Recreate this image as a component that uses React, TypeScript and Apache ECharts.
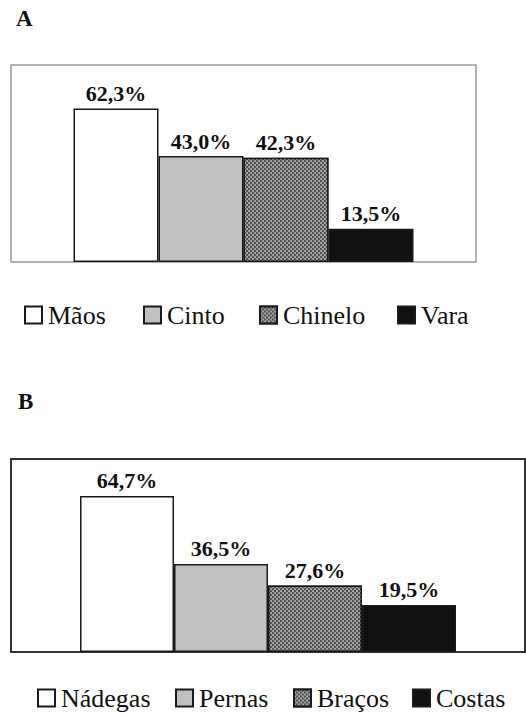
import React, { useEffect, useRef } from "react";
import * as echarts from "echarts";

const categoriesA = ["Mãos", "Cinto", "Chinelo", "Vara"];
const valuesA = [62.3, 43.0, 42.3, 13.5];
const categoriesB = ["Nádegas", "Pernas", "Braços", "Costas"];
const valuesB = [64.7, 36.5, 27.6, 19.5];
const panelLabels = ["A", "B"];

const FONT = "Liberation Serif";

const fills = [
  { color: "#ffffff" },
  { color: "#c0c0c0" },
  {
    color: "#4d4d4d",
    decal: {
      symbol: "circle",
      symbolSize: 1,
      color: "#b0b0b0",
      dashArrayX: [[1.5, 1.5], [0, 1.5, 1.5, 0]],
      dashArrayY: [1.5, 0],
      rotation: 0,
    },
  },
  { color: "#111111" },
];

export default function App() {
  const ref = useRef<HTMLDivElement>(null);
  useEffect(() => {
    if (!ref.current) return;
    const chart = echarts.init(ref.current, null, { renderer: "svg" });
    const fmt = (p: any) => p.value.toFixed(1).replace(".", ",") + "%";
    const mkSeries = (cats: string[], vals: number[], idx: number, bw: number) =>
      cats.map((c, i) => ({
        type: "bar",
        name: c,
        xAxisIndex: idx,
        yAxisIndex: idx,
        data: [vals[i]],
        barWidth: bw,
        barGap: "0%",
        itemStyle: { ...fills[i], borderColor: "#1a1a1a", borderWidth: 1.5 },
        label: {
          show: true,
          position: "top",
          distance: 4,
          formatter: fmt,
          fontFamily: FONT,
          fontWeight: "bold",
          fontSize: 22,
          color: "#111",
        },
      }));
    const legendA = [24, 143, 259, 397];
    const legendB = [37, 175, 293, 412];
    const mkLegend = (cats: string[], lefts: number[], top: number, fs: number) =>
      cats.map((c, i) => ({
        data: [c],
        left: lefts[i],
        top,
        padding: 0,
        icon: "rect",
        itemWidth: 17,
        itemHeight: 17,
        selectedMode: false,
        textStyle: { fontFamily: FONT, fontSize: fs, color: "#111", padding: [0, 0, 0, 1] },
      }));
    chart.setOption({
      animation: false,
      backgroundColor: "#ffffff",
      textStyle: { fontFamily: FONT },
      grid: [
        { left: 11, top: 65, width: 465, height: 197, show: true, borderColor: "#999999", borderWidth: 1.5, backgroundColor: "#fff" },
        { left: 11, top: 459, width: 514, height: 193, show: true, borderColor: "#333333", borderWidth: 2, backgroundColor: "#fff" },
      ],
      xAxis: [
        { type: "category", gridIndex: 0, data: ["A"], show: false },
        { type: "category", gridIndex: 1, data: ["B"], show: false },
      ],
      yAxis: [
        { type: "value", gridIndex: 0, min: 0, max: 80, show: false },
        { type: "value", gridIndex: 1, min: 0, max: 80, show: false },
      ],
      legend: [
        ...mkLegend(categoriesA, legendA, 302, 26),
        ...mkLegend(categoriesB, legendB, 685, 26),
      ],
      graphic: [
        { type: "text", left: 16, top: 7, style: { text: panelLabels[0], fontFamily: FONT, fontWeight: "bold", fontSize: 23, fill: "#111" } },
        { type: "text", left: 18, top: 390, style: { text: panelLabels[1], fontFamily: FONT, fontWeight: "bold", fontSize: 23, fill: "#111" } },
      ],
      series: [
        ...mkSeries(categoriesA, valuesA, 0, 85),
        ...mkSeries(categoriesB, valuesB, 1, 94),
      ],
    });
    return () => chart.dispose();
  }, []);
  return <div ref={ref} style={{ position: "absolute", left: 0, top: 0, width: 526, height: 715 }} />;
}
